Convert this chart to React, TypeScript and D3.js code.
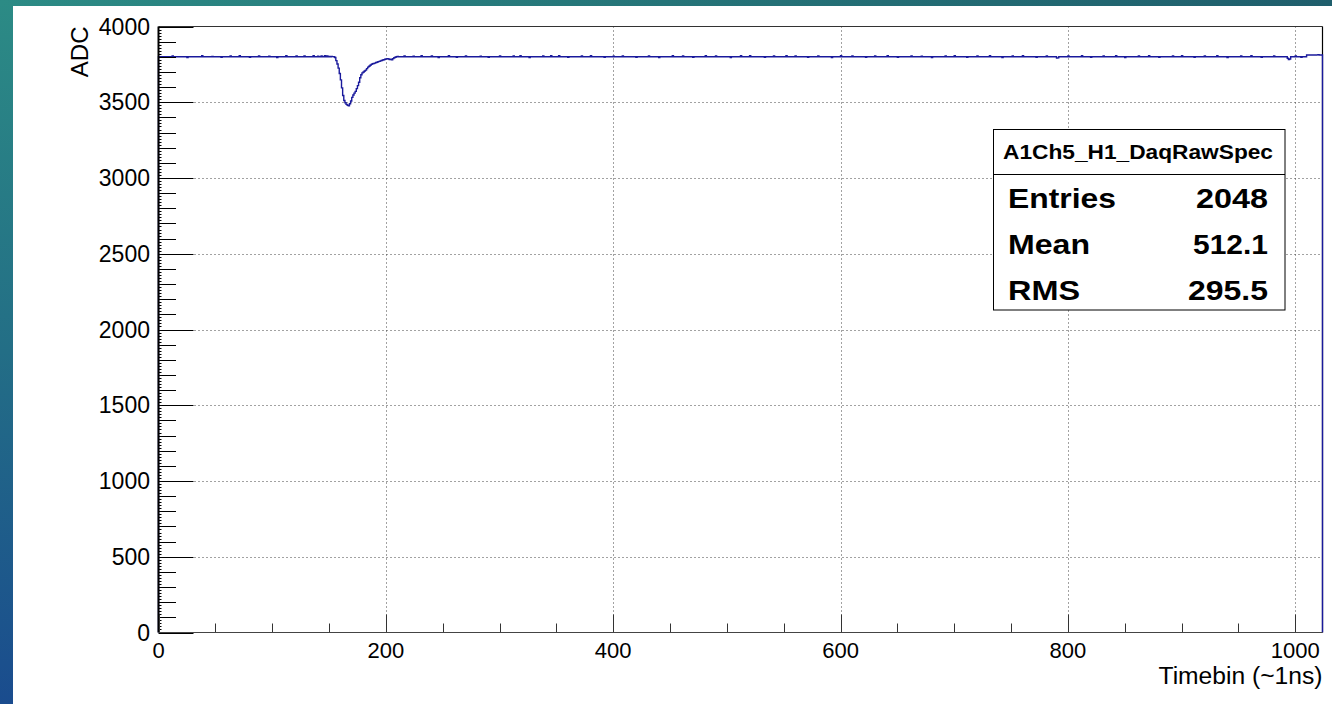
import React from "react";
import * as d3 from "d3";

// Axis ranges and labelled ticks
const X_DOMAIN: [number, number] = [0, 1024];
const Y_DOMAIN: [number, number] = [0, 4000];
const X_LABEL_TICKS = [0, 200, 400, 600, 800, 1000];
const Y_LABEL_TICKS = [0, 500, 1000, 1500, 2000, 2500, 3000, 3500, 4000];

// Raw waveform: pedestal level, the pulse bins and small pedestal fluctuations
const N_BINS = 1024;
const PEDESTAL = 3800;
const PULSE_START_BIN = 150;
const PULSE_VALUES = [
  3802, 3800, 3803, 3801, 3800, 3795, 3775, 3752, 3725, 3690,
  3648, 3595, 3545, 3512, 3497, 3486, 3480, 3476, 3490, 3508,
  3532, 3548, 3560, 3572, 3590, 3610, 3632, 3662, 3682, 3694,
  3700, 3706, 3712, 3722, 3732, 3738, 3744, 3750, 3754, 3756,
  3758, 3762, 3764, 3768, 3770, 3773, 3776, 3779, 3781, 3784,
  3786, 3787, 3785, 3782, 3784, 3781, 3788, 3794, 3797, 3800,
  3802,
];
const PEDESTAL_NOISE: [number, number][] = [
  [12, 3806], [25, 3795], [38, 3807], [47, 3803], [55, 3796], [63, 3806],
  [71, 3808], [80, 3797], [88, 3806], [97, 3804], [104, 3795], [112, 3807],
  [121, 3805], [128, 3806], [136, 3807], [140, 3804], [143, 3806], [146, 3808],
  [148, 3805], [216, 3806], [224, 3804], [231, 3807], [240, 3806], [246, 3795],
  [255, 3808], [262, 3796], [270, 3806], [283, 3804], [290, 3797], [300, 3806],
  [312, 3806], [318, 3807], [326, 3795], [338, 3806], [345, 3808], [352, 3807],
  [360, 3797], [372, 3806], [380, 3807], [392, 3796], [400, 3804], [408, 3806],
  [420, 3797], [431, 3806], [440, 3795], [452, 3807], [461, 3806], [470, 3796],
  [481, 3807], [490, 3806], [503, 3795], [512, 3807], [520, 3808], [533, 3796],
  [541, 3806], [552, 3807], [560, 3805], [571, 3796], [580, 3806], [592, 3795],
  [600, 3807], [610, 3806], [622, 3797], [630, 3806], [641, 3807], [650, 3796],
  [662, 3806], [671, 3804], [680, 3795], [692, 3806], [700, 3807], [711, 3796],
  [720, 3806], [731, 3807], [742, 3795], [751, 3806], [760, 3807], [772, 3796],
  [781, 3806], [790, 3792], [791, 3793], [800, 3806], [812, 3807], [820, 3796],
  [831, 3806], [842, 3807], [850, 3795], [862, 3806], [871, 3807], [880, 3796],
  [892, 3806], [900, 3807], [911, 3796], [920, 3806], [931, 3807], [940, 3795],
  [952, 3806], [961, 3807], [970, 3796], [981, 3806], [993, 3790], [994, 3782],
  [995, 3785], [1000, 3806], [1005, 3797], [1010, 3812], [1011, 3813],
  [1012, 3812], [1013, 3813], [1014, 3812], [1015, 3813], [1016, 3812],
  [1017, 3813], [1018, 3812], [1019, 3813], [1020, 3814], [1021, 3812],
  [1022, 3813], [1023, 3812],
];

// Statistics box
const STATS_TITLE = "A1Ch5_H1_DaqRawSpec";
const STATS_NAMES = ["Entries", "Mean", "RMS"];
const STATS_VALUES = ["2048", "512.1", "295.5"];

const X_TITLE = "Timebin (~1ns)";
const Y_TITLE = "ADC";

const W = 1332;
const H = 704;
const FONT = "'Liberation Sans', Arial, Helvetica, sans-serif";
const LINE_COLOR = "#1a1a9c";

const noiseMap = new Map(PEDESTAL_NOISE);
const binValues = d3.range(N_BINS).map((i) => {
  const p = i - PULSE_START_BIN;
  if (p >= 0 && p < PULSE_VALUES.length) return PULSE_VALUES[p];
  return noiseMap.has(i) ? (noiseMap.get(i) as number) : PEDESTAL;
});

export default function App() {
  const x = d3.scaleLinear().domain(X_DOMAIN).range([158.5, 1322.5]);
  const y = d3.scaleLinear().domain(Y_DOMAIN).range([632.5, 26.5]);
  const [x0, x1] = x.range();
  const [y0, y1] = y.range();

  const points: [number, number][] = [
    [0, 0],
    ...binValues.map((v, i) => [i, v] as [number, number]),
    [N_BINS, binValues[N_BINS - 1]],
    [N_BINS, 0],
  ];
  const histPath = d3
    .line<[number, number]>()
    .x((d) => x(d[0]))
    .y((d) => y(d[1]))
    .curve(d3.curveStepAfter)(points) as string;

  const yMinor = d3.range(0, 4001, 20).filter((v) => v % 100 !== 0);
  const yMedium = d3.range(0, 4001, 100).filter((v) => v % 500 !== 0);
  const xMinor = d3.range(0, 1025, 50).filter((v) => v % 200 !== 0);

  const statsRowBaselines = [208, 254, 300];
  const nameWidths = [108, 82, 72];
  const valueWidths = [72, 75, 80];

  return (
    <div style={{ position: "fixed", left: 0, top: 0 }}>
      <svg width={W} height={H} style={{ display: "block" }}>
        <defs>
          <linearGradient id="bgLeft" x1="0" y1="0" x2="0" y2="1">
            <stop offset="0" stopColor="#2c8b85" />
            <stop offset="0.5" stopColor="#236e86" />
            <stop offset="1" stopColor="#1a4c8e" />
          </linearGradient>
          <linearGradient id="bgTop" x1="0" y1="0" x2="1" y2="0">
            <stop offset="0" stopColor="#2c8b85" />
            <stop offset="0.5" stopColor="#257478" />
            <stop offset="1" stopColor="#1f5e6c" />
          </linearGradient>
        </defs>
        <rect x={0} y={0} width={W} height={H} fill="url(#bgLeft)" />
        <rect x={0} y={0} width={W} height={6} fill="url(#bgTop)" />
        <rect x={13} y={6} width={W - 13} height={H - 6} fill="#ffffff" />

        {/* grid */}
        <g stroke="#444" strokeWidth={1} strokeDasharray="1,3">
          {X_LABEL_TICKS.filter((v) => v > 0).map((v) => (
            <line key={"gx" + v} x1={Math.round(x(v)) + 0.5} x2={Math.round(x(v)) + 0.5} y1={y1} y2={y0} />
          ))}
          {Y_LABEL_TICKS.filter((v) => v > 0 && v < 4000).map((v) => (
            <line key={"gy" + v} x1={x0} x2={x1} y1={Math.round(y(v)) + 0.5} y2={Math.round(y(v)) + 0.5} />
          ))}
        </g>

        {/* frame top and right */}
        <line x1={x0} x2={x1} y1={y1} y2={y1} stroke="#333" strokeWidth={1} />
        <line x1={x1} x2={x1} y1={y1} y2={y0} stroke="#000" strokeWidth={1.2} />

        {/* histogram */}
        <path d={histPath} fill="none" stroke={LINE_COLOR} strokeWidth={1.4} />

        {/* y axis */}
        <g stroke="#000" strokeWidth={1}>
          {yMinor.map((v) => (
            <line key={"ym" + v} x1={x0} x2={x0 + 3} y1={Math.round(y(v)) + 0.5} y2={Math.round(y(v)) + 0.5} />
          ))}
          {yMedium.map((v) => (
            <line key={"yd" + v} x1={x0} x2={x0 + 17.5} y1={Math.round(y(v)) + 0.5} y2={Math.round(y(v)) + 0.5} />
          ))}
          {Y_LABEL_TICKS.map((v) => (
            <line key={"yM" + v} x1={x0} x2={x0 + 35} y1={Math.round(y(v)) + 0.5} y2={Math.round(y(v)) + 0.5} />
          ))}
        </g>
        <line x1={x0} x2={x0} y1={y1} y2={y0} stroke="#000" strokeWidth={2} />

        {/* x axis */}
        <g stroke="#333" strokeWidth={1}>
          {xMinor.map((v) => (
            <line key={"xm" + v} x1={Math.round(x(v)) + 0.5} x2={Math.round(x(v)) + 0.5} y1={y0} y2={y0 - 9} />
          ))}
          {X_LABEL_TICKS.map((v) => (
            <line key={"xM" + v} x1={Math.round(x(v)) + 0.5} x2={Math.round(x(v)) + 0.5} y1={y0} y2={y0 - 18} />
          ))}
        </g>
        <line x1={x0} x2={x1} y1={y0} y2={y0} stroke="#444" strokeWidth={1.2} />

        {/* tick labels */}
        <g fontFamily={FONT} fontSize={23} fill="#000">
          {Y_LABEL_TICKS.map((v) => (
            <text key={"yl" + v} x={150} y={y(v) + 8} textAnchor="end">
              {v}
            </text>
          ))}
        </g>
        <g fontFamily={FONT} fontSize={22} fill="#000">
          {X_LABEL_TICKS.map((v) => (
            <text key={"xl" + v} x={x(v)} y={658} textAnchor="middle">
              {v}
            </text>
          ))}
        </g>

        {/* axis titles */}
        <text
          x={x1 - 164}
          y={684}
          fontFamily={FONT}
          fontSize={23}
          fill="#000"
          textLength={164}
          lengthAdjust="spacingAndGlyphs"
        >
          {X_TITLE}
        </text>
        <text
          transform={`translate(88,${y1}) rotate(-90)`}
          textAnchor="end"
          fontFamily={FONT}
          fontSize={24}
          fill="#000"
        >
          {Y_TITLE}
        </text>

        {/* statistics box */}
        <g fontFamily={FONT} fontWeight="bold" fill="#000">
          <rect x={993.5} y={129.5} width={291.5} height={180.5} fill="#fff" stroke="#000" strokeWidth={1} />
          <line x1={993.5} x2={1285} y1={174.5} y2={174.5} stroke="#000" strokeWidth={1} />
          <text x={1003} y={158.5} fontSize={20} textLength={270} lengthAdjust="spacingAndGlyphs">
            {STATS_TITLE}
          </text>
          {STATS_NAMES.map((name, i) => (
            <g key={name}>
              <text x={1008} y={statsRowBaselines[i]} fontSize={28} textLength={nameWidths[i]} lengthAdjust="spacingAndGlyphs">
                {name}
              </text>
              <text
                x={1268 - valueWidths[i]}
                y={statsRowBaselines[i]}
                fontSize={28}
                textLength={valueWidths[i]}
                lengthAdjust="spacingAndGlyphs"
              >
                {STATS_VALUES[i]}
              </text>
            </g>
          ))}
        </g>
      </svg>
    </div>
  );
}
